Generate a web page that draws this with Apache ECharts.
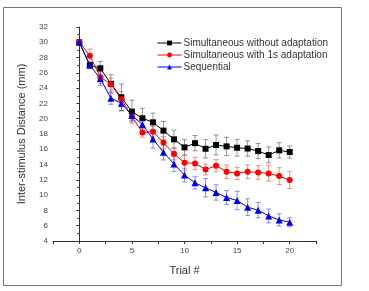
<!DOCTYPE html>
<html><head><meta charset="utf-8">
<script src="https://cdn.jsdelivr.net/npm/echarts@6/dist/echarts.min.js"></script>
<style>html,body{margin:0;padding:0;background:#fff}#c{width:369px;height:291px}</style>
</head><body><div id="c"></div>
<script>
var trials = [0,1,2,3,4,5,6,7,8,9,10,11,12,13,14,15,16,17,18,19,20];
var withoutAdapt = [30,27.0,26.6,24.56,22.8,20.93,20.06,19.53,18.44,17.3,16.25,16.8,16.07,16.56,16.38,16.2,16.1,15.77,15.25,15.86,15.64];
var withoutAdaptErr = [0,0.3,0.9,1.2,1.75,1.5,1.3,1.2,1.2,1.2,1.0,1.0,1.2,1.3,1.2,1.1,1.0,1.0,1.05,1.0,0.8];
var withAdapt = [30,28.24,25.44,24.52,22.55,20.28,18.18,18.3,16.86,15.42,14.24,14.15,13.36,13.85,13.06,12.84,13.06,12.97,12.84,12.49,11.97];
var withAdaptErr = [0,0.87,0.8,0.8,1.0,0.6,0.6,0.7,0.8,0.8,1.0,0.8,0.7,0.8,0.9,0.8,0.9,0.9,1.0,1.1,1.1];
var sequential = [30,27.0,25.26,22.68,22.03,20.41,19.23,17.35,15.6,14.07,12.62,11.61,10.96,10.35,9.69,9.3,8.42,8.03,7.28,6.76,6.45];
var sequentialErr = [0,0.3,0.9,0.8,1.0,0.7,0.9,1.2,1.0,1.0,0.9,0.8,1.2,1.0,0.9,1.2,1.1,1.0,0.9,0.8,0.6];
var seriesNames = ['Simultaneous without adaptation','Simultaneous with 1s adaptation','Sequential'];
var xTicks = [-2.5,0,2.5,5,7.5,10,12.5,15,17.5,20,22.5];
var xLabels = [0,5,10,15,20];

function pairs(v){return trials.map(function(t,i){return [t,v[i]];});}
function errData(v,e){return trials.map(function(t,i){return [t,v[i],e[i]];});}
function errSeries(v,e,color){
  return {type:'custom',silent:true,z:1,data:errData(v,e),
    renderItem:function(params,api){
      var x=api.value(0),y=api.value(1),er=api.value(2);
      if(!er) return null;
      var hi=api.coord([x,y+er]),lo=api.coord([x,y-er]);
      var w=2.5;
      var st={stroke:color,lineWidth:1,opacity:0.55};
      return {type:'group',children:[
        {type:'line',shape:{x1:hi[0],y1:hi[1],x2:lo[0],y2:lo[1]},style:st},
        {type:'line',shape:{x1:hi[0]-w,y1:hi[1],x2:hi[0]+w,y2:hi[1]},style:st},
        {type:'line',shape:{x1:lo[0]-w,y1:lo[1],x2:lo[0]+w,y2:lo[1]},style:st}
      ]};
    }};
}
var chart = echarts.init(document.getElementById('c'),null,{renderer:'canvas'});
var axisCol='#333';
chart.setOption({
  animation:false,
  backgroundColor:'#fff',
  graphic:[{type:'rect',shape:{x:3.5,y:7.5,width:338,height:278},style:{fill:'none',stroke:'#777',lineWidth:1}}],
  grid:{left:53,right:53,top:27,bottom:50},
  legend:{orient:'vertical',left:152,top:33,itemWidth:24,itemHeight:6,itemGap:2,
    data:seriesNames,
    lineStyle:{width:1},
    textStyle:{fontFamily:'Liberation Sans, Arial',fontSize:10,color:'#333',padding:[0,0,0,-3]}},
  xAxis:{type:'value',min:-2.5,max:22.5,
    name:'Trial #',nameLocation:'middle',nameGap:24,
    nameTextStyle:{fontFamily:'Liberation Sans, Arial',fontSize:11,color:'#333'},
    axisLine:{lineStyle:{color:axisCol,width:1}},
    axisTick:{customValues:xTicks,length:3,lineStyle:{color:axisCol}},
    axisLabel:{customValues:xLabels,fontFamily:'Liberation Sans, Arial',fontSize:8,color:'#444',margin:6},
    splitLine:{show:false}},
  yAxis:{type:'value',min:4,max:32,interval:2,
    name:'Inter-stimulus Distance (mm)',nameLocation:'middle',nameGap:26,
    nameTextStyle:{fontFamily:'Liberation Sans, Arial',fontSize:11,color:'#333'},
    axisLine:{show:true,lineStyle:{color:axisCol,width:1}},
    axisTick:{show:true,length:3,lineStyle:{color:axisCol}},
    minorTick:{show:true,splitNumber:2,length:2,lineStyle:{color:axisCol}},
    axisLabel:{fontFamily:'Liberation Sans, Arial',fontSize:8,color:'#444',margin:5},
    splitLine:{show:false}},
  series:[
    errSeries(withoutAdapt,withoutAdaptErr,'#444'),
    errSeries(withAdapt,withAdaptErr,'#ff3333'),
    errSeries(sequential,sequentialErr,'#3333ff'),
    {name:seriesNames[0],type:'line',z:3,data:pairs(withoutAdapt),symbol:'rect',symbolSize:6,
      lineStyle:{color:'#000',width:1},itemStyle:{color:'#000'},color:'#000'},
    {name:seriesNames[1],type:'line',z:3,data:pairs(withAdapt),symbol:'circle',symbolSize:6,
      lineStyle:{color:'#ff0000',width:1},itemStyle:{color:'#ff0000'},color:'#ff0000'},
    {name:seriesNames[2],type:'line',z:3,data:pairs(sequential),symbol:'triangle',symbolSize:7,
      lineStyle:{color:'#0000ee',width:1},itemStyle:{color:'#0000ee'},color:'#0000ee'}
  ]
});
</script></body></html>
